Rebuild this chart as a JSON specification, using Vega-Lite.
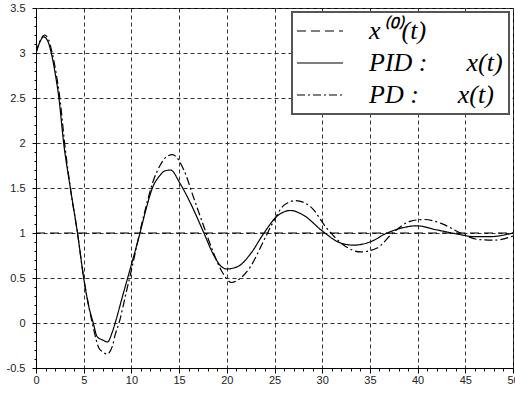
{
  "$schema": "https://vega.github.io/schema/vega-lite/v6.json",
  "width": 477,
  "height": 360,
  "autosize": "none",
  "padding": {"left": 36, "top": 8, "right": 2, "bottom": 26},
  "background": "white",
  "config": {
    "view": {"stroke": "black", "strokeWidth": 1},
    "axis": {"labelFont": "Liberation Sans", "labelFontSize": 11, "labelColor": "#222", "domainColor": "black", "tickColor": "black", "gridColor": "#333", "gridDash": [4, 3], "gridWidth": 1, "title": null, "labelOverlap": false, "labelFlush": false}
  },
  "data": {"values": [
    {"t": 0, "v": 1, "s": "x0"}, {"t": 50, "v": 1, "s": "x0"},
    {"t": 0, "v": 3.0, "s": "PID"}, {"t": 0.4, "v": 3.12, "s": "PID"}, {"t": 0.8, "v": 3.18, "s": "PID"}, {"t": 1.2, "v": 3.14, "s": "PID"}, {"t": 1.6, "v": 3.0, "s": "PID"}, {"t": 2.0, "v": 2.78, "s": "PID"}, {"t": 2.4, "v": 2.5, "s": "PID"}, {"t": 2.9, "v": 2.0, "s": "PID"}, {"t": 3.6, "v": 1.5, "s": "PID"}, {"t": 4.35, "v": 1.0, "s": "PID"}, {"t": 5.0, "v": 0.5, "s": "PID"}, {"t": 5.5, "v": 0.2, "s": "PID"}, {"t": 6.0, "v": 0.0, "s": "PID"}, {"t": 6.4, "v": -0.15, "s": "PID"}, {"t": 7.0, "v": -0.19, "s": "PID"}, {"t": 7.5, "v": -0.21, "s": "PID"}, {"t": 8.0, "v": -0.1, "s": "PID"}, {"t": 8.3, "v": 0.0, "s": "PID"}, {"t": 9.0, "v": 0.27, "s": "PID"}, {"t": 10.0, "v": 0.65, "s": "PID"}, {"t": 10.9, "v": 1.0, "s": "PID"}, {"t": 11.5, "v": 1.25, "s": "PID"}, {"t": 12.2, "v": 1.5, "s": "PID"}, {"t": 13.0, "v": 1.64, "s": "PID"}, {"t": 13.5, "v": 1.69, "s": "PID"}, {"t": 14.1, "v": 1.7, "s": "PID"}, {"t": 15.1, "v": 1.55, "s": "PID"}, {"t": 16.2, "v": 1.33, "s": "PID"}, {"t": 17.6, "v": 1.0, "s": "PID"}, {"t": 18.6, "v": 0.76, "s": "PID"}, {"t": 19.4, "v": 0.63, "s": "PID"}, {"t": 20.0, "v": 0.6, "s": "PID"}, {"t": 21.2, "v": 0.63, "s": "PID"}, {"t": 22.5, "v": 0.77, "s": "PID"}, {"t": 23.9, "v": 1.0, "s": "PID"}, {"t": 25.3, "v": 1.19, "s": "PID"}, {"t": 26.7, "v": 1.25, "s": "PID"}, {"t": 28.0, "v": 1.2, "s": "PID"}, {"t": 30.1, "v": 1.015, "s": "PID"}, {"t": 31.9, "v": 0.89, "s": "PID"}, {"t": 33.3, "v": 0.865, "s": "PID"}, {"t": 35.0, "v": 0.9, "s": "PID"}, {"t": 36.8, "v": 1.0, "s": "PID"}, {"t": 38.5, "v": 1.06, "s": "PID"}, {"t": 39.9, "v": 1.08, "s": "PID"}, {"t": 42.0, "v": 1.035, "s": "PID"}, {"t": 44.1, "v": 0.99, "s": "PID"}, {"t": 45.9, "v": 0.96, "s": "PID"}, {"t": 47.6, "v": 0.96, "s": "PID"}, {"t": 50, "v": 1.0, "s": "PID"},
    {"t": 0, "v": 3.0, "s": "PD"}, {"t": 0.4, "v": 3.13, "s": "PD"}, {"t": 0.9, "v": 3.2, "s": "PD"}, {"t": 1.3, "v": 3.15, "s": "PD"}, {"t": 1.7, "v": 3.0, "s": "PD"}, {"t": 2.1, "v": 2.78, "s": "PD"}, {"t": 2.5, "v": 2.5, "s": "PD"}, {"t": 3.0, "v": 2.0, "s": "PD"}, {"t": 3.6, "v": 1.5, "s": "PD"}, {"t": 4.35, "v": 1.0, "s": "PD"}, {"t": 5.0, "v": 0.5, "s": "PD"}, {"t": 5.6, "v": 0.15, "s": "PD"}, {"t": 6.0, "v": -0.05, "s": "PD"}, {"t": 6.6, "v": -0.28, "s": "PD"}, {"t": 7.0, "v": -0.32, "s": "PD"}, {"t": 7.45, "v": -0.345, "s": "PD"}, {"t": 8.0, "v": -0.26, "s": "PD"}, {"t": 8.3, "v": -0.13, "s": "PD"}, {"t": 8.7, "v": 0.0, "s": "PD"}, {"t": 9.5, "v": 0.36, "s": "PD"}, {"t": 10.2, "v": 0.68, "s": "PD"}, {"t": 10.9, "v": 1.02, "s": "PD"}, {"t": 11.5, "v": 1.28, "s": "PD"}, {"t": 12.2, "v": 1.55, "s": "PD"}, {"t": 13.0, "v": 1.75, "s": "PD"}, {"t": 13.7, "v": 1.85, "s": "PD"}, {"t": 14.3, "v": 1.87, "s": "PD"}, {"t": 15.5, "v": 1.7, "s": "PD"}, {"t": 16.5, "v": 1.4, "s": "PD"}, {"t": 17.6, "v": 1.07, "s": "PD"}, {"t": 18.6, "v": 0.78, "s": "PD"}, {"t": 19.5, "v": 0.57, "s": "PD"}, {"t": 20.5, "v": 0.45, "s": "PD"}, {"t": 21.2, "v": 0.48, "s": "PD"}, {"t": 22.5, "v": 0.63, "s": "PD"}, {"t": 23.9, "v": 0.92, "s": "PD"}, {"t": 24.9, "v": 1.13, "s": "PD"}, {"t": 26.0, "v": 1.31, "s": "PD"}, {"t": 27.2, "v": 1.36, "s": "PD"}, {"t": 28.8, "v": 1.29, "s": "PD"}, {"t": 30.5, "v": 1.05, "s": "PD"}, {"t": 32.2, "v": 0.87, "s": "PD"}, {"t": 34.0, "v": 0.79, "s": "PD"}, {"t": 35.7, "v": 0.83, "s": "PD"}, {"t": 37.4, "v": 1.0, "s": "PD"}, {"t": 39.2, "v": 1.13, "s": "PD"}, {"t": 40.6, "v": 1.15, "s": "PD"}, {"t": 42.4, "v": 1.11, "s": "PD"}, {"t": 44.5, "v": 1.0, "s": "PD"}, {"t": 46.2, "v": 0.93, "s": "PD"}, {"t": 48.0, "v": 0.92, "s": "PD"}, {"t": 50, "v": 0.965, "s": "PD"}
  ]},
  "mark": {"type": "line", "color": "black", "strokeWidth": 1.2, "interpolate": "monotone", "clip": true},
  "encoding": {
    "x": {
      "field": "t", "type": "quantitative",
      "scale": {"domain": [0, 50], "nice": false, "zero": false},
      "axis": {
        "values": [0,1,2,3,4,5,6,7,8,9,10,11,12,13,14,15,16,17,18,19,20,21,22,23,24,25,26,27,28,29,30,31,32,33,34,35,36,37,38,39,40,41,42,43,44,45,46,47,48,49,50],
        "format": "d",
        "labelExpr": "datum.value % 5 === 0 ? datum.label : ''",
        "grid": true,
        "gridOpacity": {"condition": {"test": "datum.value % 5 === 0", "value": 1}, "value": 0},
        "tickSize": {"condition": {"test": "datum.value % 5 === 0", "value": 5}, "value": 3},
        "labelPadding": 1
      }
    },
    "y": {
      "field": "v", "type": "quantitative",
      "scale": {"domain": [-0.5, 3.5], "nice": false, "zero": false},
      "axis": {
        "values": [-0.5,-0.4,-0.3,-0.2,-0.1,0,0.1,0.2,0.3,0.4,0.5,0.6,0.7,0.8,0.9,1,1.1,1.2,1.3,1.4,1.5,1.6,1.7,1.8,1.9,2,2.1,2.2,2.3,2.4,2.5,2.6,2.7,2.8,2.9,3,3.1,3.2,3.3,3.4,3.5],
        "format": "~g",
        "labelExpr": "abs(datum.value*2 - round(datum.value*2)) < 0.000001 ? replace(datum.label, '\u2212', '-') : ''",
        "grid": true,
        "gridOpacity": {"condition": {"test": "abs(datum.value*2 - round(datum.value*2)) < 0.000001", "value": 1}, "value": 0},
        "tickSize": {"condition": {"test": "abs(datum.value*2 - round(datum.value*2)) < 0.000001", "value": 4}, "value": 2},
        "labelPadding": 7
      }
    },
    "strokeDash": {
      "field": "s", "type": "nominal",
      "scale": {"domain": ["x0", "PID", "PD"], "range": [[9, 5], [1, 0], [8, 3, 2, 3]]},
      "legend": {
        "title": null,
        "orient": "top-right",
        "offset": 4,
        "labelExpr": "datum.value === 'x0' ? 'x\u207D\u2070\u207E(t)' : datum.value === 'PID' ? 'PID :\u2003\u2002x(t)' : 'PD :\u2003\u2002x(t)'",
        "labelFont": "Liberation Serif",
        "labelFontStyle": "italic",
        "labelFontSize": 26,
        "labelColor": "black",
        "labelLimit": 300,
        "labelOffset": 36,
        "symbolType": "M-2.3,0L2.3,0",
        "symbolSize": 400,
        "symbolOffset": 9,
        "symbolFillColor": "transparent",
        "symbolStrokeColor": "black",
        "symbolStrokeWidth": 1.2,
        "strokeColor": "#555",
        "fillColor": "white",
        "padding": 6,
        "rowPadding": 6,
        "encode": {"legend": {"update": {"strokeWidth": {"value": 2}}}}
      }
    }
  }
}
